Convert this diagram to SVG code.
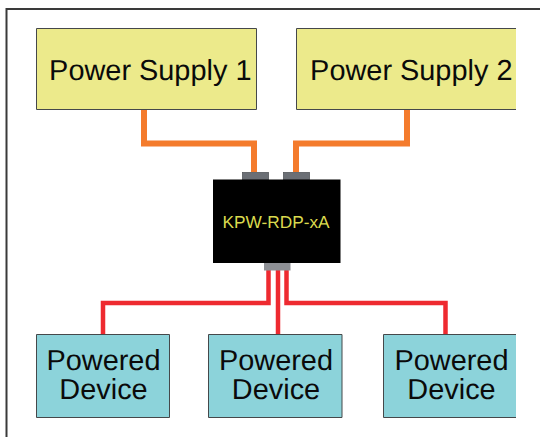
<svg xmlns="http://www.w3.org/2000/svg" width="540" height="437" viewBox="0 0 540 437">
<style>
text{font-family:"Liberation Sans",Arial,sans-serif;fill:#0a0a0a;font-size:28.900px;text-anchor:middle;text-rendering:geometricPrecision}
.frame{fill:none;stroke:#3a3a3a;stroke-width:2}
.ps{fill:#ecea8b}
.pd{fill:#8cd3da}
.edge{fill:none;stroke:#45484a;stroke-width:1}
.o{fill:none;stroke:#f47b2c;stroke-width:6}
.r{fill:none;stroke:#ee2a30;stroke-width:4.500}
.c1{fill:#6b6f75;stroke:#55585c;stroke-width:.8}
.c2{fill:#8e9095}
</style>
<rect width="540" height="437" fill="#fff"/>
<path class="frame" d="M6.500 437V9H540"/>
<g id="connectors">
<path class="o" d="M144 109V143.500H254V172"/>
<path class="o" d="M407 109V143.500H296V172"/>
<path class="r" d="M268.500 270V303H103V335"/>
<path class="r" d="M278 270V335"/>
<path class="r" d="M286.500 270V303H445.500V335"/>
</g>
<g id="ps1">
<rect class="ps" x="36.500" y="28.500" width="220" height="81"/>
<path class="edge" d="M36.500 109.500V28.500H256.500V109.500Z"/>
<text x="150.300" y="79.500">Power Supply 1</text>
</g>
<g id="ps2">
<rect class="ps" x="296.500" y="28.500" width="219.500" height="81"/>
<path class="edge" d="M516 28.500H296.500V109.500H516"/>
<text x="411.300" y="79.500">Power Supply 2</text>
</g>
<g id="kpw">
<rect class="c1" x="242.500" y="172.500" width="26" height="7.500"/>
<rect class="c1" x="283.500" y="172.500" width="26" height="7.500"/>
<rect x="213" y="179.500" width="127.500" height="83.500" fill="#000"/>
<rect class="c2" x="264" y="263" width="26.500" height="7.500"/>
<text x="276" y="227.700" style="font-size:17.300px;fill:#dada4e">KPW-RDP-xA</text>
</g>
<g id="pd1">
<rect class="pd" x="36.500" y="334.500" width="133" height="83"/>
<path class="edge" d="M36.500 334.500H169.500V417.500H36.500Z"/>
<text x="103.500" y="370">Powered</text>
<text x="103.500" y="399">Device</text>
</g>
<g id="pd2">
<rect class="pd" x="208.500" y="334.500" width="133.500" height="83"/>
<path class="edge" d="M208.500 334.500H342V417.500H208.500Z"/>
<text x="276" y="370">Powered</text>
<text x="276" y="399">Device</text>
</g>
<g id="pd3">
<rect class="pd" x="383.500" y="334.500" width="132.500" height="83"/>
<path class="edge" d="M516 334.500H383.500V417.500H516"/>
<text x="451.500" y="370">Powered</text>
<text x="451.500" y="399">Device</text>
</g>
</svg>
